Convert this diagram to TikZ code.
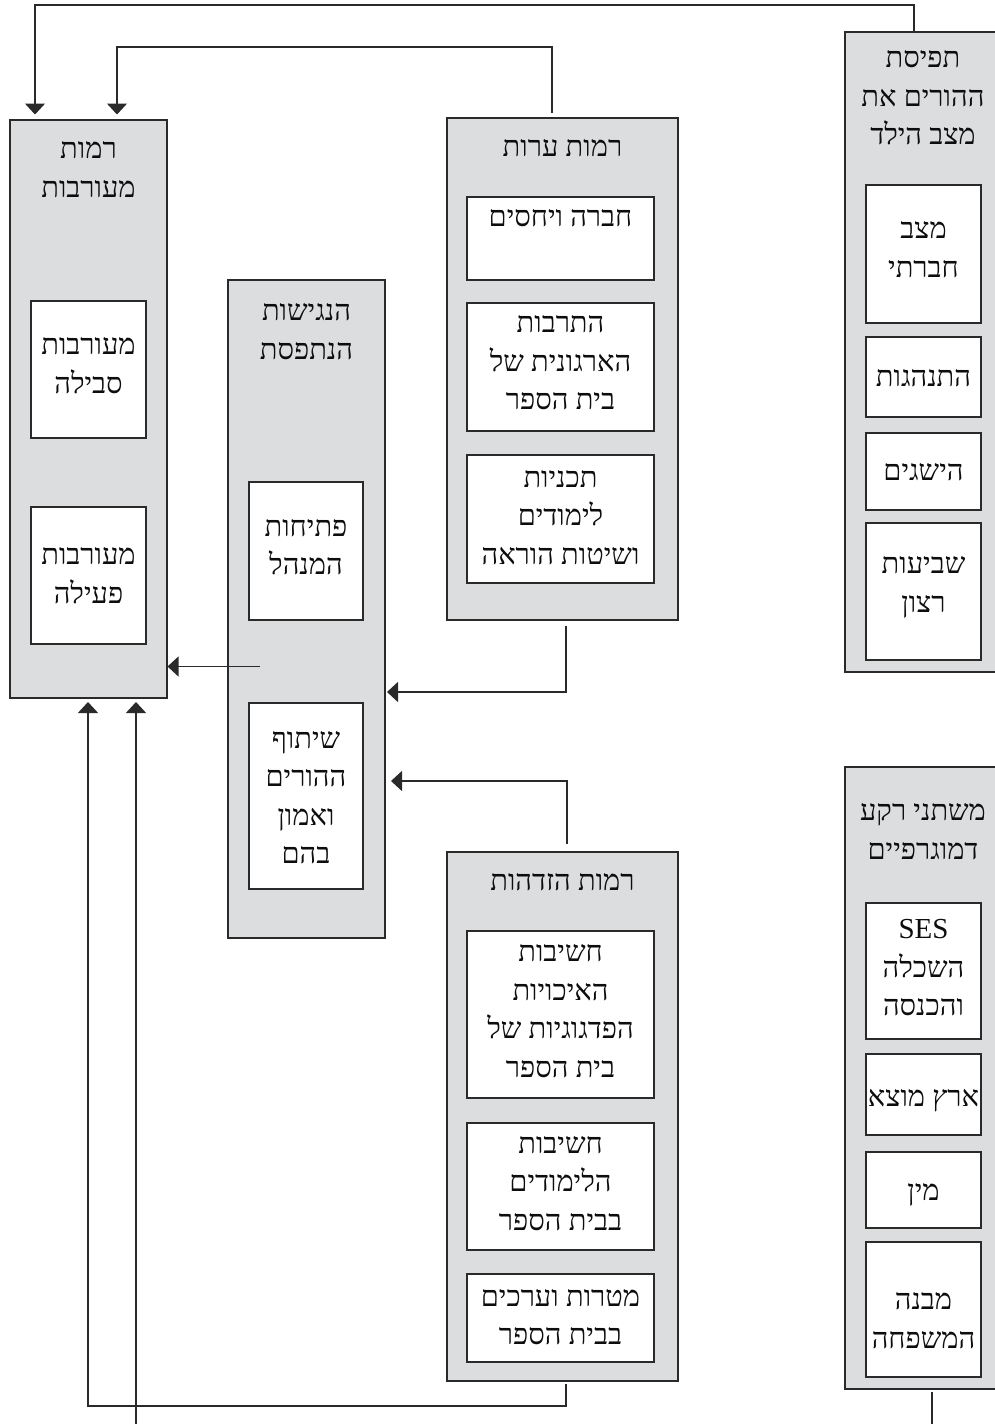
\documentclass[tikz,border=0pt]{standalone}
\usepackage{fontspec}
\newfontfamily\hebfont[Script=Hebrew]{Liberation Serif}
\TeXXeTstate=1
\usetikzlibrary{arrows.meta}
\definecolor{boxgray}{HTML}{DCDDDF}
\definecolor{linecol}{HTML}{2A2A2A}
\newcommand\hl[1]{\vrule width 0pt height 28pt depth 10.5pt\beginR #1\endR}
\newcommand\latline[1]{\vrule width 0pt height 28pt depth 10.5pt #1}
\tikzset{
  outerbox/.style={draw=linecol, fill=boxgray, line width=1.4pt, rectangle, inner sep=0pt, outer sep=0pt, anchor=north west},
  innerbox/.style={draw=linecol, fill=white, line width=1.4pt, rectangle, inner sep=0pt, outer sep=0pt, anchor=north west},
  txt/.style={inner sep=0pt, align=center, font=\hebfont\fontsize{29}{38.5}\selectfont, text=black!95},
  conn/.style={draw=linecol, line width=1.3pt},
  arr/.style={conn, -{Triangle[length=11pt, width=20pt]}}
}
\begin{document}
\begin{tikzpicture}[x=1pt, y=-1pt]
\useasboundingbox (0,0) rectangle (994,1424);

% ---------- left box: רמות מעורבות
\node[outerbox, minimum width=157pt, minimum height=578pt] (A) at (10,120) {};
\node[txt] (At) at (88.5,169) {\hl{רמות}\\\hl{מעורבות}};
\node[innerbox, minimum width=115pt, minimum height=137pt] (A1) at (31,301) {};
\node[txt] (A1t) at (88.5,365) {\hl{מעורבות}\\\hl{סבילה}};
\node[innerbox, minimum width=115pt, minimum height=137pt] (A2) at (31,507) {};
\node[txt] (A2t) at (88.5,575) {\hl{מעורבות}\\\hl{פעילה}};

% ---------- הנגישות הנתפסת
\node[outerbox, minimum width=157pt, minimum height=658pt] (N) at (228,280) {};
\node[txt] (Nt) at (306.5,331) {\hl{הנגישות}\\\hl{הנתפסת}};
\node[innerbox, minimum width=114pt, minimum height=138pt] (N1) at (249,482) {};
\node[txt] (N1t) at (306,546.5) {\hl{פתיחות}\\\hl{המנהל}};
\node[innerbox, minimum width=114pt, minimum height=186pt] (N2) at (249,703) {};
\node[txt] (N2t) at (306,797) {\hl{שיתוף}\\\hl{ההורים}\\\hl{ואמון}\\\hl{בהם}};

% ---------- רמות ערות
\node[outerbox, minimum width=231pt, minimum height=502pt] (E) at (447,118) {};
\node[txt] (Et) at (562.5,148) {\hl{רמות ערות}};
\node[innerbox, minimum width=187pt, minimum height=83pt] (E1) at (467,197) {};
\node[txt] (E1t) at (560.5,218) {\hl{חברה ויחסים}};
\node[innerbox, minimum width=187pt, minimum height=128pt] (E2) at (467,303) {};
\node[txt] (E2t) at (560.5,362.5) {\hl{התרבות}\\\hl{הארגונית של}\\\hl{בית הספר}};
\node[innerbox, minimum width=187pt, minimum height=128pt] (E3) at (467,455) {};
\node[txt] (E3t) at (560.5,517) {\hl{תכניות}\\\hl{לימודים}\\\hl{ושיטות הוראה}};

% ---------- רמות הזדהות
\node[outerbox, minimum width=231pt, minimum height=529pt] (Z) at (447,852) {};
\node[txt] (Zt) at (562.5,882) {\hl{רמות הזדהות}};
\node[innerbox, minimum width=187pt, minimum height=167pt] (Z1) at (467,931) {};
\node[txt] (Z1t) at (560.5,1010.5) {\hl{חשיבות}\\\hl{האיכויות}\\\hl{הפדגוגיות של}\\\hl{בית הספר}};
\node[innerbox, minimum width=187pt, minimum height=127pt] (Z2) at (467,1123) {};
\node[txt] (Z2t) at (560.5,1183) {\hl{חשיבות}\\\hl{הלימודים}\\\hl{בבית הספר}};
\node[innerbox, minimum width=187pt, minimum height=88pt] (Z3) at (467,1274) {};
\node[txt] (Z3t) at (560.5,1316.5) {\hl{מטרות וערכים}\\\hl{בבית הספר}};

% ---------- תפיסת ההורים את מצב הילד
\node[outerbox, minimum width=157pt, minimum height=640pt] (P) at (845,32) {};
\node[txt] (Pt) at (923,97.5) {\hl{תפיסת}\\\hl{ההורים את}\\\hl{מצב הילד}};
\node[innerbox, minimum width=115pt, minimum height=138pt] (P1) at (866,185) {};
\node[txt] (P1t) at (923.5,249) {\hl{מצב}\\\hl{חברתי}};
\node[innerbox, minimum width=115pt, minimum height=80pt] (P2) at (866,337) {};
\node[txt] (P2t) at (923.5,378) {\hl{התנהגות}};
\node[innerbox, minimum width=115pt, minimum height=77pt] (P3) at (866,433) {};
\node[txt] (P3t) at (923.5,472) {\hl{הישגים}};
\node[innerbox, minimum width=115pt, minimum height=137pt] (P4) at (866,523) {};
\node[txt] (P4t) at (923.5,584) {\hl{שביעות}\\\hl{רצון}};

% ---------- משתני רקע דמוגרפיים
\node[outerbox, minimum width=157pt, minimum height=622pt] (R) at (845,767) {};
\node[txt] (Rt) at (923,831) {\hl{משתני רקע}\\\hl{דמוגרפיים}};
\node[innerbox, minimum width=115pt, minimum height=136pt] (R1) at (866,903) {};
\node[txt] (R1t) at (923.5,968.5) {\latline{SES}\\\hl{השכלה}\\\hl{והכנסה}};
\node[innerbox, minimum width=115pt, minimum height=81pt] (R2) at (866,1054) {};
\node[txt] (R2t) at (923.5,1098) {\hl{ארץ מוצא}};
\node[innerbox, minimum width=115pt, minimum height=76pt] (R3) at (866,1152) {};
\node[txt] (R3t) at (923.5,1192) {\hl{מין}};
\node[innerbox, minimum width=115pt, minimum height=135pt] (R4) at (866,1242) {};
\node[txt] (R4t) at (923.5,1320) {\hl{מבנה}\\\hl{המשפחה}};

% ---------- connectors
\coordinate (k1) at (914,5);
\coordinate (k2) at (35,5);
\draw[arr, shorten >=5.5pt] (P.north -| k1) -- (k1) -- (k2) -- (A.north -| k2);

\coordinate (k3) at (552,47);
\coordinate (k4) at (117,47);
\draw[arr, shorten <=5pt, shorten >=5.5pt] (E.north -| k3) -- (k3) -- (k4) -- (A.north -| k4);

\coordinate (k5) at (260,666.5);
\draw[arr, shorten >=0.5pt] (k5) -- (A.east |- k5);

\coordinate (k6) at (566,692);
\draw[arr, shorten <=6pt, shorten >=2pt] (E.south -| k6) -- (k6) -- (N.east |- k6);

\coordinate (k7) at (567,781);
\draw[arr, shorten <=8pt, shorten >=6pt] (Z.north -| k7) -- (k7) -- (N.east |- k7);

\coordinate (k8) at (566,1406);
\coordinate (k9) at (88,1406);
\draw[arr, shorten <=3pt, shorten >=4pt] (Z.south -| k8) -- (k8) -- (k9) -- (A.south -| k9);

\coordinate (k10) at (136,1430);
\draw[arr, shorten >=4pt] (k10) -- (A.south -| k10);

\coordinate (k11) at (932,1430);
\draw[conn, shorten <=3pt] (R.south -| k11) -- (k11);
\end{tikzpicture}
\end{document}
